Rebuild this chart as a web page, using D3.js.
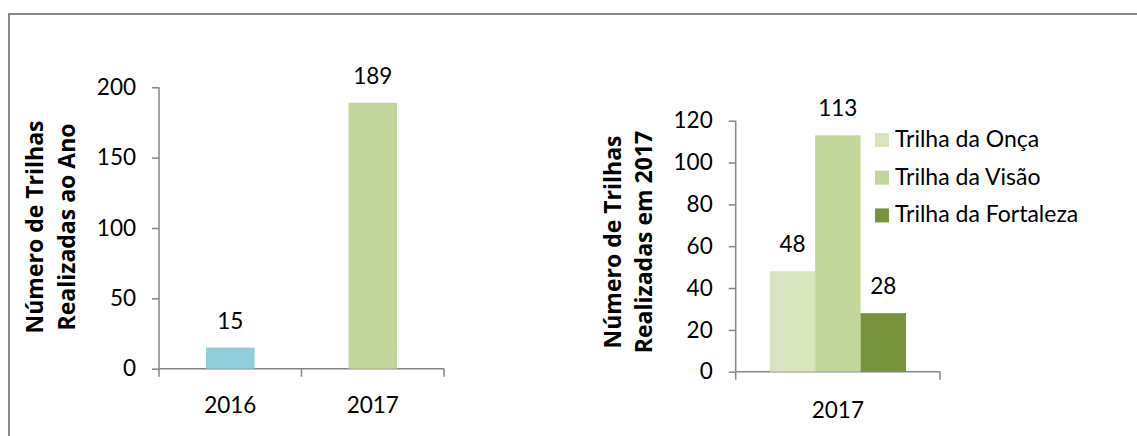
<!DOCTYPE html>
<head>
  <meta charset="utf-8" />
  <script src="https://d3js.org/d3.v7.min.js"></script>
  <style>
    body { margin: 0; background: #fff; }
    svg text { font-family: Lato, "Open Sans", sans-serif; fill: #000; }
    .axis path, .axis line { stroke: #868686; stroke-width: 1.5; }
    .axis text { font-size: 22.5px; }
    .titulo { font-family: "Open Sans", sans-serif !important; font-weight: bold; font-size: 23px; }
  </style>
</head>
<body>
  <script>
    // dados
    var anos = ["2016", "2017"];
    var trilhasAno = [15, 189];
    var coresAno = ["#92cddc", "#c3d69b"];

    var trilhas = ["Trilha da Onça", "Trilha da Visão", "Trilha da Fortaleza"];
    var trilhas2017 = [48, 113, 28];
    var coresTrilha = ["#d7e4bd", "#c3d69b", "#77933c"];

    var ticksAno = [0, 50, 100, 150, 200];
    var ticks2017 = [0, 20, 40, 60, 80, 100, 120];

    var width = 1137, height = 436;

    var svg = d3.select("body").append("svg")
      .attr("width", width)
      .attr("height", height);

    // moldura
    svg.append("rect")
      .attr("x", 9).attr("y", 14)
      .attr("width", 1200).attr("height", 500)
      .attr("fill", "none")
      .attr("stroke", "#898989")
      .attr("stroke-width", 2);

    // ---- grafico 1 ----
    var g1 = svg.append("g");
    var x1 = d3.scaleBand().domain(anos).range([159, 444]).paddingInner(0.66).paddingOuter(0.33);
    var y1 = d3.scaleLinear().domain([0, 200]).range([368.7, 87.3]);

    g1.append("g").attr("class", "axis")
      .attr("transform", "translate(159,0)")
      .call(d3.axisLeft(y1).tickValues(ticksAno).tickSize(7).tickPadding(16))
      .call(g => g.select(".domain").attr("d", "M0," + y1(200) + "V" + y1(0)));

    // eixo x com marcas entre categorias
    var bx1 = [159, (159 + 444) / 2, 444];
    g1.append("line")
      .attr("x1", 159).attr("x2", 444).attr("y1", y1(0)).attr("y2", y1(0))
      .attr("stroke", "#868686").attr("stroke-width", 1.5);
    g1.selectAll(".xt").data(bx1).join("line")
      .attr("x1", d => d).attr("x2", d => d)
      .attr("y1", y1(0)).attr("y2", y1(0) + 8)
      .attr("stroke", "#868686").attr("stroke-width", 1.5);

    g1.selectAll(".bar").data(anos).join("rect")
      .attr("x", d => x1(d))
      .attr("width", x1.bandwidth())
      .attr("y", (d, i) => y1(trilhasAno[i]))
      .attr("height", (d, i) => y1(0) - y1(trilhasAno[i]))
      .attr("fill", (d, i) => coresAno[i]);

    g1.selectAll(".val").data(anos).join("text")
      .attr("x", d => x1(d) + x1.bandwidth() / 2)
      .attr("y", (d, i) => y1(trilhasAno[i]) - 19)
      .attr("text-anchor", "middle")
      .attr("font-size", 22.5)
      .text((d, i) => trilhasAno[i]);

    g1.selectAll(".cat").data(anos).join("text")
      .attr("x", d => x1(d) + x1.bandwidth() / 2)
      .attr("y", 413)
      .attr("text-anchor", "middle")
      .attr("font-size", 22.5)
      .text(d => d);

    var t1 = g1.append("text").attr("class", "titulo")
      .attr("transform", "translate(0,227) rotate(-90)")
      .attr("text-anchor", "middle");
    t1.append("tspan").attr("x", 0).attr("y", 43).text("Número de Trilhas");
    t1.append("tspan").attr("x", 0).attr("y", 75).text("Realizadas ao Ano");

    // ---- grafico 2 ----
    var g2 = svg.append("g");
    var x2 = d3.scaleBand().domain(["2017"]).range([735.7, 940]);
    var xs = d3.scaleBand().domain(trilhas).range([0, x2.bandwidth()]).paddingOuter(0.75);
    var y2 = d3.scaleLinear().domain([0, 120]).range([371.7, 120.7]);

    g2.append("g").attr("class", "axis")
      .attr("transform", "translate(735.7,0)")
      .call(d3.axisLeft(y2).tickValues(ticks2017).tickSize(7).tickPadding(16))
      .call(g => g.select(".domain").attr("d", "M0," + y2(120) + "V" + y2(0)));

    g2.append("line")
      .attr("x1", 735.7).attr("x2", 940).attr("y1", y2(0)).attr("y2", y2(0))
      .attr("stroke", "#868686").attr("stroke-width", 1.5);
    g2.selectAll(".xt").data(x2.range()).join("line")
      .attr("x1", d => d).attr("x2", d => d)
      .attr("y1", y2(0)).attr("y2", y2(0) + 8)
      .attr("stroke", "#868686").attr("stroke-width", 1.5);

    g2.selectAll(".bar").data(trilhas).join("rect")
      .attr("x", d => x2("2017") + xs(d))
      .attr("width", xs.bandwidth())
      .attr("y", (d, i) => y2(trilhas2017[i]))
      .attr("height", (d, i) => y2(0) - y2(trilhas2017[i]))
      .attr("fill", (d, i) => coresTrilha[i]);

    g2.selectAll(".val").data(trilhas).join("text")
      .attr("x", d => x2("2017") + xs(d) + xs.bandwidth() / 2)
      .attr("y", (d, i) => y2(trilhas2017[i]) - 19)
      .attr("text-anchor", "middle")
      .attr("font-size", 22.5)
      .text((d, i) => trilhas2017[i]);

    g2.append("text")
      .attr("x", x2("2017") + x2.bandwidth() / 2)
      .attr("y", 418)
      .attr("text-anchor", "middle")
      .attr("font-size", 22.5)
      .text("2017");

    var t2 = g2.append("text").attr("class", "titulo")
      .attr("transform", "translate(0,242) rotate(-90)")
      .attr("text-anchor", "middle");
    t2.append("tspan").attr("x", 0).attr("y", 621).text("Número de Trilhas");
    t2.append("tspan").attr("x", 0).attr("y", 652).text("Realizadas em 2017");

    // legenda
    var leg = g2.selectAll(".leg").data(trilhas).join("g")
      .attr("transform", (d, i) => "translate(875," + (133 + i * 37.7) + ")");
    leg.append("rect").attr("width", 14).attr("height", 14)
      .attr("fill", (d, i) => coresTrilha[i]);
    leg.append("text").attr("x", 20).attr("y", 14)
      .attr("font-size", 23)
      .text(d => d);
  </script>
</body>
